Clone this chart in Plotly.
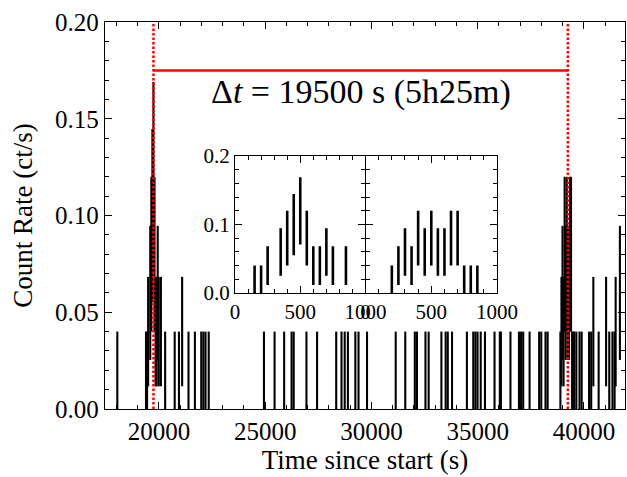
import numpy as np
import plotly.graph_objects as go

# Light curve binned at 50 s; counts per bin
BIN_S = 50.0

# Flare 1 (times relative to its window start)
FLARE1_START = 19240
FLARE1_OFFSET = [150, 200, 250, 350, 400, 450, 500, 550, 600, 650, 700, 750, 850]
FLARE1_COUNTS = [1, 1, 2, 3, 4, 5, 6, 4, 2, 2, 3, 2, 2]

# Flare 2 (times relative to its window start)
FLARE2_START = 38690
FLARE2_OFFSET = [200, 250, 300, 350, 400, 450, 500, 550, 600, 650, 700, 750, 800, 850]
FLARE2_COUNTS = [1, 2, 3, 2, 4, 3, 4, 3, 3, 4, 4, 1, 1, 1]

# Quiescent bins with non-zero counts (bin centre, s since start)
QUIET_TIME = [18040, 20290, 20740, 20940, 21090, 21390, 21690, 21990, 22090, 22190, 22340,
              24940, 25440, 25890, 26240, 26340, 26940, 27440, 28340, 28590, 28740, 28890,
              29240, 29390, 29790, 31140, 31590, 32040, 32140, 32540, 32690, 33290, 33490,
              33590, 33790, 34490, 34790, 34890, 34990, 35140, 35340, 35790, 36040, 36090,
              36540, 36940, 37040, 37140, 37440, 37890, 37990, 38190, 38290,
              39640, 39790, 39890, 40240, 40340, 40440, 40690, 41040, 41190, 41340, 41440,
              41490, 41690]
QUIET_COUNTS = [1, 1, 1, 1, 2, 1, 1, 1, 1, 1, 1,
                1, 1, 1, 1, 1, 1, 1, 1, 1, 1, 1,
                1, 1, 1, 1, 1, 1, 1, 1, 1, 1, 1,
                1, 1, 1, 1, 1, 1, 1, 1, 1, 1, 1,
                1, 1, 1, 1, 1, 1, 1, 1, 1,
                1, 1, 1, 1, 1, 2, 1, 2, 1, 1, 1,
                2, 3]

# Flare peak separation
T_PEAK1 = 19740
DELTA_T = 19500
LABEL = "Δ<i>t</i> = 19500 s (5h25m)"

X_RANGE = [17460, 41930]
Y_RANGE = [0, 0.2]
X_TICKS = [20000, 25000, 30000, 35000, 40000]

FONT = "Liberation Serif"


def rate_and_err(counts):
    c = np.asarray(counts, dtype=float)
    return c / BIN_S, np.sqrt(c) / BIN_S


main_t = np.concatenate([
    np.asarray(QUIET_TIME, float),
    FLARE1_START + np.asarray(FLARE1_OFFSET, float),
    FLARE2_START + np.asarray(FLARE2_OFFSET, float),
])
main_c = QUIET_COUNTS + FLARE1_COUNTS + FLARE2_COUNTS
main_r, main_e = rate_and_err(main_c)

f1_r, f1_e = rate_and_err(FLARE1_COUNTS)
f2_r, f2_e = rate_and_err(FLARE2_COUNTS)

invisible = dict(size=1, color="rgba(0,0,0,0)")


def ebar_trace(x, y, e, xa, ya, thick):
    return go.Scatter(
        x=x, y=y, mode="markers", marker=invisible, xaxis=xa, yaxis=ya,
        error_y=dict(type="data", array=e, width=0, thickness=thick, color="black"),
        hoverinfo="skip", showlegend=False, cliponaxis=True,
    )


fig = go.Figure()
fig.add_trace(ebar_trace(main_t, main_r, main_e, "x", "y", 2.1))

t_peak2 = T_PEAK1 + DELTA_T
red = "#ff0000"
for tp in (T_PEAK1, t_peak2):
    fig.add_trace(go.Scatter(x=[tp, tp], y=Y_RANGE, mode="lines", xaxis="x", yaxis="y",
                             line=dict(color=red, width=2.5, dash="2.5px,2px"),
                             hoverinfo="skip", showlegend=False))
fig.add_trace(go.Scatter(x=[T_PEAK1, t_peak2], y=[0.175, 0.175], mode="lines",
                         xaxis="x", yaxis="y", line=dict(color=red, width=2.5),
                         hoverinfo="skip", showlegend=False))

fig.add_trace(ebar_trace(FLARE1_OFFSET, f1_r, f1_e, "x2", "y2", 2.6))
fig.add_trace(ebar_trace(FLARE2_OFFSET, f2_r, f2_e, "x3", "y3", 2.6))

fig.add_annotation(x=(T_PEAK1 + t_peak2) / 2, y=0.164, xref="x", yref="y", text=LABEL,
                   showarrow=False, font=dict(family=FONT, size=34, color="black"),
                   xanchor="center", yanchor="middle")

axis_common = dict(
    showline=True, linecolor="black", linewidth=1.3, mirror="allticks",
    ticks="inside", tickcolor="black", tickwidth=1.2, showgrid=False, zeroline=False,
    automargin=False,
)


def minor(step):
    return dict(tick0=0, dtick=step, ticks="inside", ticklen=4, tickcolor="black", tickwidth=1)


tick_font = dict(family=FONT, size=25, color="black")
title_font = dict(family=FONT, size=27, color="black")
inset_font = dict(family=FONT, size=21, color="black")

ins_y = [0.2997, 0.6537]

fig.update_layout(
    width=627, height=477,
    margin=dict(l=105, r=2, t=22, b=68),
    paper_bgcolor="white", plot_bgcolor="white",
    showlegend=False,
    xaxis=dict(**axis_common, range=X_RANGE, tickvals=X_TICKS, tickformat="d",
               ticklen=7, tickfont=tick_font, minor=minor(1000),
               title=dict(text="Time since start (s)", font=title_font, standoff=5)),
    yaxis=dict(**axis_common, range=Y_RANGE, tick0=0, dtick=0.05, tickformat=".2f",
               ticklen=7, tickfont=tick_font, minor=minor(0.01),
               title=dict(text="Count Rate (ct/s)", font=title_font, standoff=14)),
    xaxis2=dict(**axis_common, domain=[0.25, 0.501], anchor="y2", range=[0, 1000],
                tick0=0, dtick=500, ticklen=7, tickfont=inset_font, minor=minor(100)),
    yaxis2=dict(**axis_common, domain=ins_y, anchor="x2", range=Y_RANGE, tick0=0, dtick=0.1,
                tickformat=".1f", ticklen=7, tickfont=inset_font, minor=minor(0.02)),
    xaxis3=dict(**axis_common, domain=[0.501, 0.754], anchor="y3", range=[0, 1000],
                tick0=0, dtick=500, ticklen=7, tickfont=inset_font, minor=minor(100)),
    yaxis3=dict(**axis_common, domain=ins_y, anchor="x3", range=Y_RANGE, tick0=0, dtick=0.1,
                showticklabels=False, ticklen=7, minor=minor(0.02)),
)

fig.write_html("out.html")
